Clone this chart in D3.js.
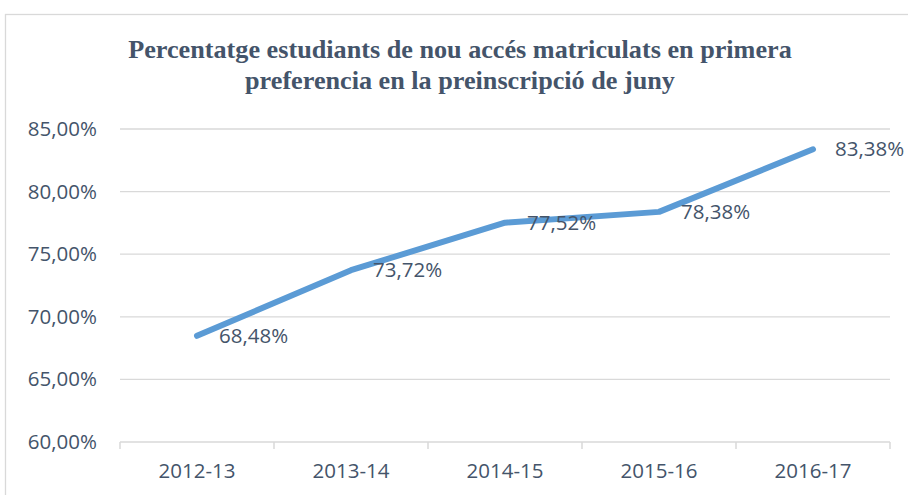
<!DOCTYPE html>
<html>
<head>
<meta charset="utf-8">
<script src="https://cdn.jsdelivr.net/npm/d3@7"></script>
<style>
  body { margin: 0; background: #fff; }
  text { font-family: "Open Sans", sans-serif; }
</style>
</head>
<body>
<div id="chart"></div>
<script>
// data
var cursos = ["2012-13", "2013-14", "2014-15", "2015-16", "2016-17"];
var percentatges = [68.48, 73.72, 77.52, 78.38, 83.38];
var yTicks = [60, 65, 70, 75, 80, 85];
var titleLines = ["Percentatge estudiants de nou accés matriculats en primera",
                  "preferencia en la preinscripció de juny"];

var W = 908, H = 495;
var margin = {top: 129, right: 18, bottom: 53, left: 120},
    width = W - margin.left - margin.right,
    height = H - margin.top - margin.bottom;

var textColor = "#44546a";
var gridColor = "#d9d9d9";

const svg = d3.select("#chart")
  .append("svg")
    .attr("width", W)
    .attr("height", H);

// chart border
svg.append("rect")
  .attr("x", 5.5).attr("y", 14.5)
  .attr("width", W + 20).attr("height", H + 20)
  .attr("fill", "none")
  .attr("stroke", gridColor)
  .attr("stroke-width", 1.3);

// title
svg.append("g")
  .selectAll("text")
  .data(titleLines)
  .join("text")
    .attr("x", 460)
    .attr("y", (d, i) => 58 + i * 31)
    .attr("text-anchor", "middle")
    .style("font-family", "'Liberation Serif', 'Times New Roman', serif")
    .style("font-weight", "bold")
    .style("font-size", "26.2px")
    .attr("fill", textColor)
    .text(d => d);

const g = svg.append("g")
  .attr("transform", `translate(${margin.left},${margin.top})`);

// X axis
const x = d3.scaleBand()
  .range([0, width])
  .domain(cursos);

const y = d3.scaleLinear()
  .domain([60, 85])
  .range([height, 0]);

// gridlines
g.append("g")
  .selectAll("line")
  .data(yTicks.slice(1))
  .join("line")
    .attr("x1", 0).attr("x2", width)
    .attr("y1", d => y(d)).attr("y2", d => y(d))
    .attr("stroke", gridColor)
    .attr("stroke-width", 1.3);

// y labels
const yAxis = g.append("g")
  .call(d3.axisLeft(y).tickValues(yTicks).tickSize(0).tickPadding(23)
    .tickFormat(d => d3.format(".2f")(d).replace(".", ",") + "%"));
yAxis.select(".domain").remove();
yAxis.selectAll("text")
  .attr("fill", textColor)
  .style("font-size", "20.5px")
  .style("font-family", "'Open Sans', sans-serif");

// x axis with ticks at band edges
const xAxisG = g.append("g")
  .attr("transform", `translate(0, ${height})`);
xAxisG.append("line")
  .attr("x1", 0).attr("x2", width)
  .attr("stroke", gridColor).attr("stroke-width", 1.5);
xAxisG.selectAll(".edge")
  .data(cursos.concat(["end"]))
  .join("line")
    .attr("class", "edge")
    .attr("x1", (d, i) => i * x.step()).attr("x2", (d, i) => i * x.step())
    .attr("y1", 0).attr("y2", 7)
    .attr("stroke", gridColor).attr("stroke-width", 1.5);
xAxisG.selectAll(".lbl")
  .data(cursos)
  .join("text")
    .attr("class", "lbl")
    .attr("x", d => x(d) + x.bandwidth() / 2)
    .attr("y", 36)
    .attr("text-anchor", "middle")
    .attr("fill", textColor)
    .style("font-size", "20.5px")
    .text(d => d);

// line
const line = d3.line()
  .x((d, i) => x(cursos[i]) + x.bandwidth() / 2)
  .y(d => y(d));

g.append("path")
  .datum(percentatges)
  .attr("d", line)
  .attr("fill", "none")
  .attr("stroke", "#5b9bd5")
  .attr("stroke-width", 6)
  .attr("stroke-linecap", "round")
  .attr("stroke-linejoin", "round");

// data labels
g.append("g")
  .selectAll("text")
  .data(percentatges)
  .join("text")
    .attr("x", (d, i) => x(cursos[i]) + x.bandwidth() / 2 + 22)
    .attr("y", d => y(d))
    .attr("dy", "0.35em")
    .attr("fill", textColor)
    .style("font-size", "20.5px")
    .text(d => d3.format(".2f")(d).replace(".", ",") + "%");
</script>
</body>
</html>
